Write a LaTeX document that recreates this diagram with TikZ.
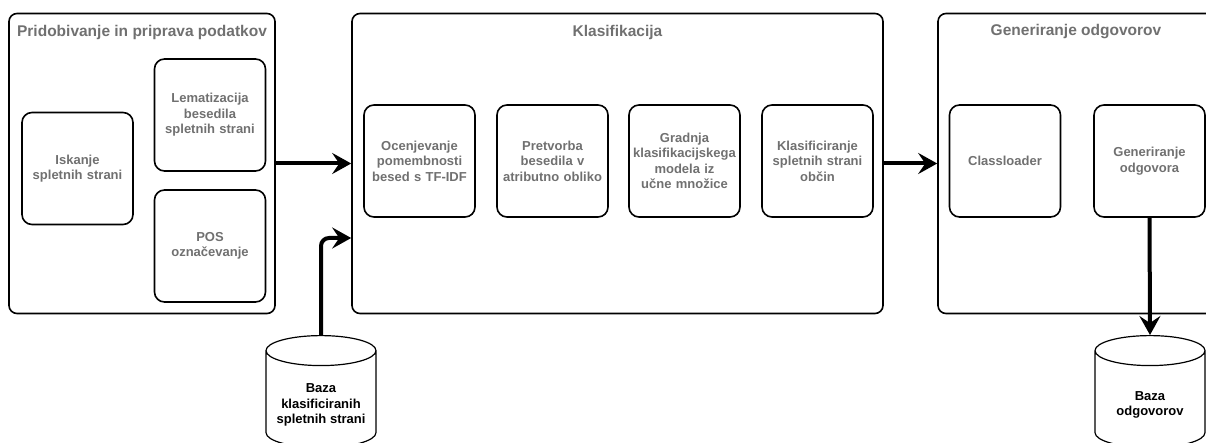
\documentclass[tikz,border=0pt]{standalone}
\usepackage{fontspec}
\setmainfont{Liberation Sans}
\usetikzlibrary{positioning,shapes.geometric,arrows.meta}

\definecolor{txtgray}{RGB}{112,112,112}

\tikzset{
  stage/.style={draw, line width=1.6pt, rounded corners=8pt, minimum width=#1, minimum height=300pt},
  grouptitle/.style={text=txtgray, inner sep=0pt, font=\bfseries\fontsize{15.5}{18}\selectfont},
  stepbox/.style={draw, line width=1.6pt, rounded corners=10pt, minimum width=111pt, minimum height=112pt,
    inner sep=1pt, text width=108pt, align=center, text=txtgray, font=\bfseries\fontsize{13}{15.5}\selectfont},
  db/.style={draw, line width=1.2pt, fill=white, cylinder, shape border rotate=90, aspect=4.5,
    minimum width=110pt, minimum height=112pt, anchor=top},
  dbtext/.style={align=center, inner sep=0pt, font=\bfseries\fontsize{13}{15.5}\selectfont},
  flow/.style={line width=4pt, -{Stealth[length=19pt,width=21pt,inset=7pt]}},
}

\begin{document}
\begin{tikzpicture}[x=1pt, y=-1pt]
\def\ytitle{32}
\def\ymid{163.5}
\def\ystep{161}
\def\ydb{335}
\def\ydbtext{405}

\useasboundingbox (0,0) rectangle (1206,443);

% Pridobivanje in priprava podatkov
\def\xa{142}
\node[stage=266pt](prid) at (\xa, \ymid) {};
\node[grouptitle](pridt) at (\xa, \ytitle) {Pridobivanje in priprava podatkov};
\node[stepbox](isk) at (77.5, 168.5) {Iskanje\\spletnih strani};
\node[stepbox](lem) at (210, 115) {Lematizacija\\besedila\\spletnih strani};
\node[stepbox](pos) at (210, 246) {POS\\označevanje};

% Klasifikacija
\def\xb{617.5}
\node[stage=531pt](klas) at (\xb, \ymid) {};
\node[grouptitle](klast) at (\xb, \ytitle) {Klasifikacija};
\node[stepbox](ocen) at (419.5, \ystep) {Ocenjevanje\\pomembnosti\\besed s TF-IDF};
\node[stepbox](pret) at (552.5, \ystep) {Pretvorba\\besedila v\\atributno obliko};
\node[stepbox](grad) at (684.5, \ystep) {Gradnja\\klasifikacijskega\\modela iz\\učne množice};
\node[stepbox](klsf) at (817.5, \ystep) {Klasificiranje\\spletnih strani\\občin};

% Generiranje odgovorov
\def\xc{1076}
\node[stage=276pt](gen) at (\xc, \ymid) {};
\node[grouptitle](gent) at (\xc, \ytitle) {Generiranje odgovorov};
\node[stepbox](cls) at (1005, \ystep) {Classloader};
\node[stepbox](genodg) at (1149.5, \ystep) {Generiranje\\odgovora};

% baze
\node[db](baza1) at (321, \ydb) {};
\node[dbtext](baza1t) at (321, \ydbtext) {Baza\\klasificiranih\\spletnih strani};
\node[db](baza2) at (1150, \ydb) {};
\node[dbtext](baza2t) at (1150, \ydbtext) {Baza\\odgovorov};

\coordinate (klasin) at ([yshift=-74.5pt]klas.west);

\draw[flow] (prid) -- (klas);
\draw[flow] (klas) -- (gen);
\draw[flow, rounded corners=8pt] (baza1.top) |- (klasin);
\draw[flow] (genodg.south) -- (baza2.top);

\end{tikzpicture}
\end{document}
